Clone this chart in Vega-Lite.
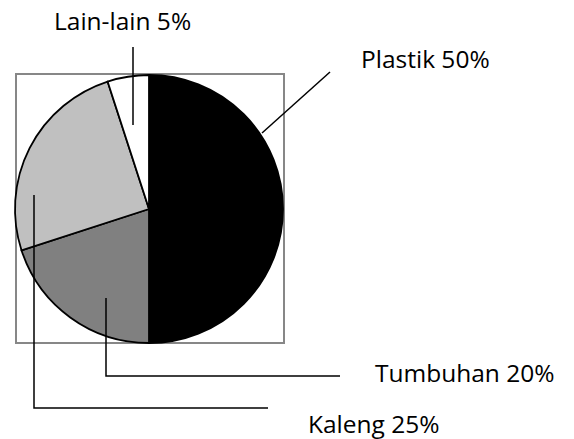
{
  "$schema": "https://vega.github.io/schema/vega-lite/v6.json",
  "width": 574,
  "height": 439,
  "padding": 0,
  "autosize": {"type": "fit", "contains": "padding"},
  "background": "white",
  "config": {"view": {"stroke": null}},
  "datasets": {
    "pie": [
      {"cat": "Plastik", "value": 50, "o": 1},
      {"cat": "Tumbuhan", "value": 20, "o": 2},
      {"cat": "Kaleng", "value": 25, "o": 3},
      {"cat": "Lain-lain", "value": 5, "o": 4}
    ],
    "box": [{"x1": 16, "x2": 284, "y1": 74, "y2": 343}],
    "lines": [
      {"id": "Lain-lain", "k": 1, "x": 133, "y": 47},
      {"id": "Lain-lain", "k": 2, "x": 133, "y": 125},
      {"id": "Plastik", "k": 1, "x": 262, "y": 133},
      {"id": "Plastik", "k": 2, "x": 330, "y": 72},
      {"id": "Tumbuhan", "k": 1, "x": 106, "y": 298},
      {"id": "Tumbuhan", "k": 2, "x": 106, "y": 376},
      {"id": "Tumbuhan", "k": 3, "x": 340, "y": 376},
      {"id": "Kaleng", "k": 1, "x": 34, "y": 195},
      {"id": "Kaleng", "k": 2, "x": 34, "y": 408},
      {"id": "Kaleng", "k": 3, "x": 268, "y": 408}
    ],
    "labels": [
      {"text": "Lain-lain 5%", "x": 54, "y": 30},
      {"text": "Plastik 50%", "x": 361, "y": 68},
      {"text": "Tumbuhan 20%", "x": 375, "y": 382},
      {"text": "Kaleng 25%", "x": 308, "y": 433}
    ]
  },
  "layer": [
    {
      "data": {"name": "box"},
      "mark": {"type": "rect", "fill": null, "stroke": "#878787", "strokeWidth": 2},
      "encoding": {
        "x": {"field": "x1", "type": "quantitative", "scale": {"domain": [0, 574], "nice": false, "zero": false}, "axis": null},
        "x2": {"field": "x2"},
        "y": {"field": "y1", "type": "quantitative", "scale": {"domain": [0, 439], "nice": false, "zero": false, "reverse": true}, "axis": null},
        "y2": {"field": "y2"}
      }
    },
    {
      "data": {"name": "pie"},
      "mark": {"type": "arc", "outerRadius": 134, "stroke": "black", "strokeWidth": 1.8},
      "encoding": {
        "theta": {"field": "value", "type": "quantitative", "stack": true},
        "order": {"field": "o", "type": "quantitative"},
        "color": {
          "field": "cat",
          "type": "nominal",
          "scale": {"domain": ["Plastik", "Tumbuhan", "Kaleng", "Lain-lain"], "range": ["#000000", "#808080", "#c0c0c0", "#ffffff"]},
          "legend": null
        },
        "x": {"datum": 149, "type": "quantitative"},
        "y": {"datum": 209, "type": "quantitative"}
      }
    },
    {
      "data": {"name": "lines"},
      "mark": {"type": "line", "color": "black", "strokeWidth": 1.5, "interpolate": "linear"},
      "encoding": {
        "x": {"field": "x", "type": "quantitative"},
        "y": {"field": "y", "type": "quantitative"},
        "detail": {"field": "id"},
        "order": {"field": "k", "type": "quantitative"}
      }
    },
    {
      "data": {"name": "labels"},
      "mark": {"type": "text", "align": "left", "baseline": "alphabetic", "font": "Open Sans", "fontSize": 24.5, "color": "black"},
      "encoding": {
        "x": {"field": "x", "type": "quantitative"},
        "y": {"field": "y", "type": "quantitative"},
        "text": {"field": "text"}
      }
    }
  ]
}
